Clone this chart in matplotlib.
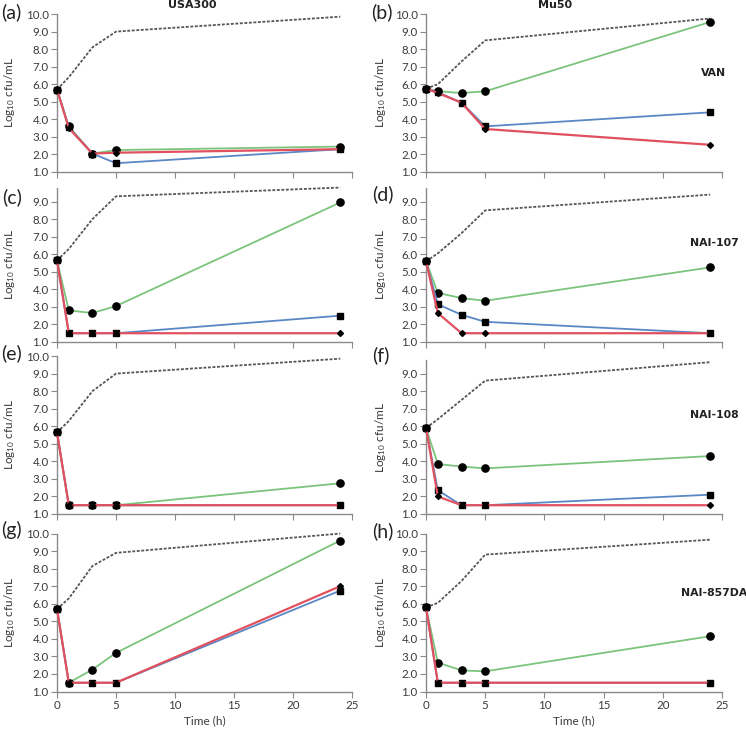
import matplotlib
matplotlib.use("Agg")
import matplotlib.pyplot as plt
from matplotlib.ticker import FormatStrFormatter

plt.rcParams['font.family'] = ['Lato', 'DejaVu Sans']
plt.rcParams['mathtext.default'] = 'regular'

times = [0, 1, 3, 5, 24]

panels = ['a', 'b', 'c', 'd', 'e', 'f', 'g', 'h']
drug_labels = {'b': 'VAN', 'd': 'NAI-107', 'f': 'NAI-108', 'h': 'NAI-857DA'}

control = {
    'a': [5.7, 6.4, 8.1, 9.0, 9.85],
    'b': [5.75, 6.0, 7.3, 8.5, 9.75],
    'c': [5.65, 6.3, 8.0, 9.3, 9.8],
    'd': [5.6, 6.05, 7.2, 8.5, 9.4],
    'e': [5.65, 6.3, 8.0, 9.0, 9.85],
    'f': [5.9, 6.4, 7.5, 8.6, 9.65],
    'g': [5.7, 6.3, 8.15, 8.9, 10.0],
    'h': [5.8, 6.05, 7.3, 8.8, 9.65],
}
green = {
    'a': [5.7, 3.6, 2.05, 2.25, 2.45],
    'b': [5.75, 5.6, 5.5, 5.6, 9.55],
    'c': [5.65, 2.8, 2.65, 3.05, 8.95],
    'd': [5.6, 3.8, 3.5, 3.35, 5.25],
    'e': [5.65, 1.5, 1.5, 1.5, 2.75],
    'f': [5.9, 3.85, 3.7, 3.6, 4.3],
    'g': [5.7, 1.5, 2.25, 3.2, 9.6],
    'h': [5.8, 2.65, 2.2, 2.15, 4.15],
}
blue = {
    'a': [5.7, 3.55, 2.05, 1.5, 2.3],
    'b': [5.75, 5.55, 4.95, 3.6, 4.4],
    'c': [5.65, 1.5, 1.5, 1.5, 2.5],
    'd': [5.6, 3.15, 2.55, 2.15, 1.5],
    'e': [5.65, 1.5, 1.5, 1.5, 1.5],
    'f': [5.9, 2.35, 1.5, 1.5, 2.1],
    'g': [5.7, 1.5, 1.5, 1.5, 6.75],
    'h': [5.8, 1.5, 1.5, 1.5, 1.5],
}
red = {
    'a': [5.7, 3.5, 2.05, 2.1, 2.3],
    'b': [5.75, 5.5, 4.95, 3.45, 2.55],
    'c': [5.65, 1.5, 1.5, 1.5, 1.5],
    'd': [5.6, 2.65, 1.5, 1.5, 1.5],
    'e': [5.65, 1.5, 1.5, 1.5, 1.5],
    'f': [5.9, 2.0, 1.5, 1.5, 1.5],
    'g': [5.7, 1.5, 1.5, 1.5, 7.0],
    'h': [5.8, 1.5, 1.5, 1.5, 1.5],
}
ytop = {'a': 10, 'b': 10, 'c': 9.8, 'd': 9.8, 'e': 10, 'f': 9.75, 'g': 10, 'h': 10}

W, H = 746, 729
fig = plt.figure(figsize=(W / 100, H / 100), dpi=100)
unit = 17.55
col_x = [57, 426]
col_w = [295, 296]
row_y1 = [172, 342, 514, 691.5]

GREEN = '#7cc47c'
BLUE = '#5a87c5'
RED = '#e0505e'
SPINE = '#8a8a8a'

letter_pos = {'a': (1, 12), 'b': (371, 12), 'c': (2, 197), 'd': (372, 194),
              'e': (1, 353), 'f': (372, 355), 'g': (1, 530), 'h': (372, 531)}

for i, p in enumerate(panels):
    r, c = divmod(i, 2)
    top = ytop[p]
    h_px = (top - 1) * unit
    y1 = row_y1[r]
    ax = fig.add_axes([col_x[c] / W, 1 - y1 / H, col_w[c] / W, h_px / H])
    ax.plot(times, control[p], color='#555555', lw=1.3, dashes=(1.6, 0.9), zorder=2)
    ax.plot(times, green[p], color=GREEN, lw=1.3, marker='o', ms=5.2,
            mfc='black', mec='black', zorder=3)
    ax.plot(times, blue[p], color=BLUE, lw=1.3, marker='s', ms=4.6,
            mfc='black', mec='black', zorder=4)
    ax.plot(times, red[p], color=RED, lw=1.6, marker='D', ms=3.0,
            mfc='black', mec='black', zorder=5)
    ax.set_xlim(0, 25)
    ax.set_ylim(1, top)
    ax.set_xticks([0, 5, 10, 15, 20, 25])
    yt = list(range(1, 11)) if top >= 10 else list(range(1, 10))
    ax.set_yticks(yt)
    ax.yaxis.set_major_formatter(FormatStrFormatter('%.1f'))
    for s in ['top', 'right']:
        ax.spines[s].set_visible(False)
    for s in ['left', 'bottom']:
        ax.spines[s].set_color(SPINE)
        ax.spines[s].set_linewidth(1.0)
    ax.tick_params(direction='out', length=4, width=0.8, color=SPINE,
                   labelsize=8.3, labelcolor='#3a3a3a', pad=2)
    if r < 3:
        ax.tick_params(axis='x', labelbottom=False)
    else:
        ax.set_xlabel('Time (h)', fontsize=8.5, color='#3a3a3a', labelpad=3)
    ax.set_ylabel(r'Log$_{10}$ cfu/mL', fontsize=8.5, color='#3a3a3a')
    ax.yaxis.set_label_coords(-0.135 if c == 0 else -0.128, 0.5)
    for ln in ax.lines:
        ln.set_clip_on(False)
    if p in drug_labels:
        ax.text(0.973, 6.62, drug_labels[p], transform=ax.get_yaxis_transform(),
                ha='center', va='center', fontsize=7.8, fontweight='bold',
                color='#222222', family=['DejaVu Sans'])
    lx, ly = letter_pos[p]
    fig.text(lx / W, 1 - ly / H, '(' + p + ')', ha='left', va='center',
             fontsize=14, color='#222222')

fig.text(192 / W, 1 - 5 / H, 'USA300', ha='center', va='center', fontsize=8,
         fontweight='bold', color='#222222', family=['DejaVu Sans'])
fig.text(555 / W, 1 - 5 / H, 'Mu50', ha='center', va='center', fontsize=8,
         fontweight='bold', color='#222222', family=['DejaVu Sans'])

fig.savefig('out.png', dpi=100)
